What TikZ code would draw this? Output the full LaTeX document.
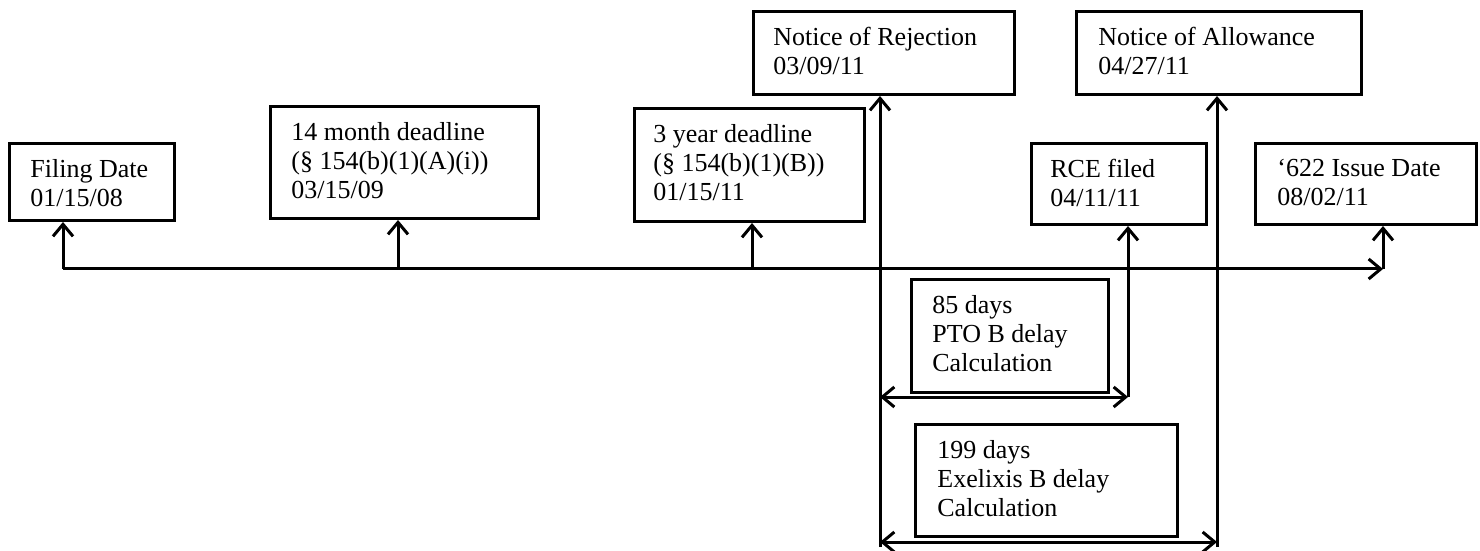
\documentclass[tikz,border=0pt]{standalone}
\usepackage{fontspec}
\setmainfont{Liberation Serif}
\usetikzlibrary{arrows.meta}

\tikzset{
  box/.style={draw, line width=1.5pt, anchor=north west, inner sep=0pt},
  txt/.style={anchor=north west, inner sep=0pt, align=left,
    font={\fontsize{13pt}{14.5pt}\selectfont}},
  tip/.style={line width=1.5pt, -{Straight Barb[length=6pt,width=10pt,line width=1.5pt]}},
  dbl/.style={line width=1.5pt, {Straight Barb[length=6pt,width=10pt,line width=1.5pt]}-{Straight Barb[length=6pt,width=10pt,line width=1.5pt]}}
}

\begin{document}
\begin{tikzpicture}[x=0.5pt, y=-0.5pt]
  \useasboundingbox (0,0) rectangle (1480,551);

  % boxes
  \node[box, minimum width=82.5pt, minimum height=38.5pt] (fil) at (8,142) {};
  \node[box, minimum width=134pt, minimum height=56pt] (m14) at (269,105) {};
  \node[box, minimum width=115pt, minimum height=56.5pt] (y3) at (633,107) {};
  \node[box, minimum width=130.5pt, minimum height=41.5pt] (rej) at (752,10) {};
  \node[box, minimum width=142.5pt, minimum height=41.5pt] (alw) at (1075,10) {};
  \node[box, minimum width=87.5pt, minimum height=40.5pt] (rce) at (1030,142) {};
  \node[box, minimum width=110.5pt, minimum height=40.5pt] (iss) at (1254,142) {};
  \node[box, minimum width=98.5pt, minimum height=56.5pt] (d85) at (910,278) {};
  \node[box, minimum width=131pt, minimum height=56pt] (d199) at (914,423) {};

  % texts
  \node[txt] (filt) at ([shift={(22,17)}]fil.north west) {Filing Date\\01/15/08};
  \node[txt] (m14t) at ([shift={(22,17)}]m14.north west) {14 month deadline\\(§ 154(b)(1)(A)(i))\\03/15/09};
  \node[txt] (y3t) at ([shift={(20,17)}]y3.north west) {3 year deadline\\(§ 154(b)(1)(B))\\01/15/11};
  \node[txt] (rejt) at ([shift={(21,17)}]rej.north west) {Notice of Rejection\\03/09/11};
  \node[txt] (alwt) at ([shift={(23,17)}]alw.north west) {Notice of Allowance\\04/27/11};
  \node[txt] (rcet) at ([shift={(20,17)}]rce.north west) {RCE filed\\04/11/11};
  \node[txt] (isst) at ([shift={(23,17)}]iss.north west) {‘622 Issue Date\\08/02/11};
  \node[txt] (d85t) at ([shift={(22,17)}]d85.north west) {85 days\\PTO B delay\\Calculation};
  \node[txt] (d199t) at ([shift={(23,17)}]d199.north west) {199 days\\Exelixis B delay\\Calculation};

  % timeline
  \coordinate (t0) at (63,269);
  \coordinate (t1) at (398,269);
  \coordinate (t2) at (752,269);
  \coordinate (tend) at (1383,269);
  \coordinate (rejb) at (880,547);
  \coordinate (alwb) at (1217,547);
  \coordinate (p85a) at (880,397);
  \coordinate (p85b) at (1128,397);
  \coordinate (p199a) at (880,542);
  \coordinate (p199b) at (1217,542);

  \draw[tip] (t0) -- (tend);
  \draw[tip] (t0) -- (t0 |- fil.south);
  \draw[tip] (t1) -- (t1 |- m14.south);
  \draw[tip] (t2) -- (t2 |- y3.south);
  \draw[tip] (tend) -- (tend |- iss.south);

  \draw[tip] (rejb) -- (rejb |- rej.south);
  \draw[tip] (alwb) -- (alwb |- alw.south);
  \draw[tip] (p85b) -- (p85b |- rce.south);

  \draw[dbl] (p85a) -- (p85b);
  \draw[dbl] (p199a) -- (p199b);
\end{tikzpicture}
\end{document}
